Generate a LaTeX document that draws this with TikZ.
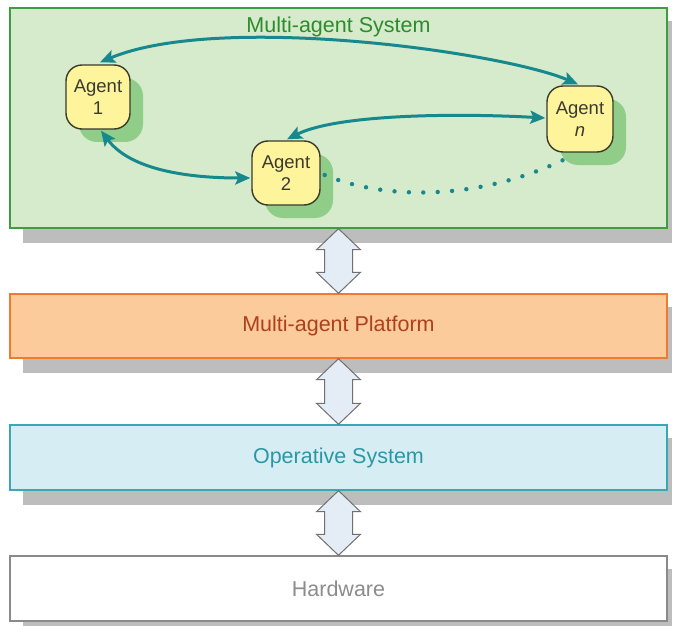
\documentclass[tikz,border=0pt]{standalone}
\usepackage{fontspec}
\setmainfont{Liberation Sans}
\usetikzlibrary{arrows.meta,calc,backgrounds}
\definecolor{masfill}{HTML}{D5EBCB}
\definecolor{masline}{HTML}{3C9E3C}
\definecolor{mastext}{HTML}{2E8B2E}
\definecolor{platfill}{HTML}{FBCB9B}
\definecolor{platline}{HTML}{F07A32}
\definecolor{plattext}{HTML}{B0401C}
\definecolor{osfill}{HTML}{D6EEF3}
\definecolor{osline}{HTML}{3AA8B2}
\definecolor{ostext}{HTML}{2A98A4}
\definecolor{hwline}{HTML}{8A8A8A}
\definecolor{hwtext}{HTML}{8C8C8C}
\definecolor{shadowgray}{HTML}{BDBDBD}
\definecolor{agentfill}{HTML}{FDF49C}
\definecolor{agentline}{HTML}{3A3A2A}
\definecolor{agenttext}{HTML}{3A3A30}
\definecolor{agentshade}{HTML}{8FCD88}
\definecolor{linkteal}{HTML}{17888E}
\definecolor{dblfill}{HTML}{E4ECF6}
\definecolor{dblline}{HTML}{707070}

% double-headed block arrow between two stacked layers
\newcommand\stackarrow[2]{%
  \draw[dbl] (#1.south) -- ++(22,21) -- ++(-8,0) -- ($(#2.north)+(14,-21)$)
    -- ++(8,0) -- (#2.north) -- ++(-22,-21) -- ++(8,0)
    -- ($(#1.south)+(-14,21)$) -- ++(-8,0) -- cycle;}

\begin{document}
\begin{tikzpicture}[x=1pt,y=-1pt,
  layer/.style={draw, line width=1.4pt, minimum width=657pt, minimum height=65pt,
    inner sep=0pt, font=\fontsize{21.5}{25}\selectfont},
  agent/.style={draw=agentline, fill=agentfill, line width=1.4pt, rounded corners=16pt,
    minimum width=64pt, minimum height=64pt, inner sep=0pt, align=center,
    font=\fontsize{18.5}{21.5}\selectfont, text=agenttext},
  agentshadow/.style={fill=agentshade, rounded corners=18pt, minimum width=64pt,
    minimum height=64pt, draw=none, inner sep=0pt},
  link/.style={draw=linkteal, line width=3pt,
    {Stealth[length=15pt,width=13pt,inset=3pt]}-{Stealth[length=15pt,width=13pt,inset=3pt]}},
  dotlink/.style={draw=linkteal, line width=4.4pt, line cap=round,
    dash pattern=on 0pt off 14.4pt},
  dbl/.style={draw=dblline, fill=dblfill, line width=1pt, line join=miter},
  layershadow/.style={fill=shadowgray}]
\useasboundingbox (0,0) rectangle (673,626);

% layers
\node[layer, draw=masline, fill=masfill, minimum height=220pt] (mas) at (338.5,118) {};
\node[text=mastext, font=\fontsize{21.5}{25}\selectfont] (mastitle) at (338.5,27) {Multi-agent System};
\node[layer, draw=platline, fill=platfill, text=plattext, minimum height=64pt] (plat) at (338.5,326) {Multi-agent Platform};
\node[layer, draw=osline, fill=osfill, text=ostext] (os) at (338.5,457.5) {Operative System};
\node[layer, draw=hwline, fill=white, text=hwtext] (hw) at (338.5,588.5) {Hardware};

\begin{scope}[on background layer]
  \foreach \b in {mas,plat,os,hw}
    \fill[layershadow] ($(\b.north west)+(14,14)$) rectangle ($(\b.south east)+(4,14)$);
\end{scope}

% agents
\coordinate (c1) at (98,97);
\coordinate (c2) at (286,173);
\coordinate (cn) at (580,119);
\node[agentshadow] at ($(c1)+(13,13)$) {};
\node[agentshadow, minimum width=68pt] at ($(c2)+(13,13)$) {};
\node[agentshadow, minimum width=66pt, minimum height=66pt] at ($(cn)+(13,13)$) {};
\node[agent] (a1) at (c1) {Agent\\1};
\node[agent, minimum width=68pt] (a2) at (c2) {Agent\\2};
\node[agent, minimum width=66pt, minimum height=66pt] (an) at (cn) {Agent\\\textit{n}};

% communication links
\draw[link] ($(a1.north)+(2,-2)$) .. controls +(120,-50) and +(-75,-32) .. ($(an.north)+(-2,-1)$);
\draw[link] ($(a2.north)+(1,-1)$) .. controls +(50,-25) and +(-90,-5) .. ($(an.west)+(-1,-1)$);
\draw[link] ($(a1.south)+(3,1)$) .. controls +(30,40) and +(-60,0) .. ($(a2.west)+(-1,5)$);
\draw[dotlink] ($(a2.east)+(4,2)$) .. controls +(60,25) and +(-90,45) .. ($(an.south)+(-10,4)$);

% layer interfaces
\stackarrow{mas}{plat}
\stackarrow{plat}{os}
\stackarrow{os}{hw}
\end{tikzpicture}
\end{document}
